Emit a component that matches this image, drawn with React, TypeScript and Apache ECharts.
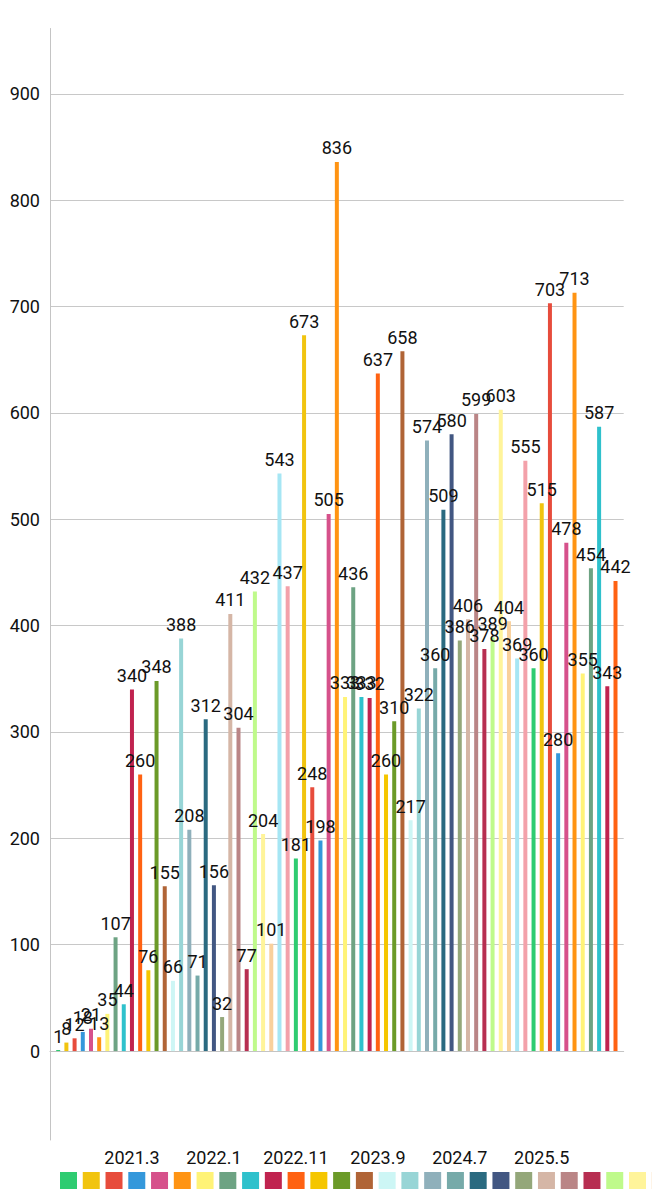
import React, { useEffect, useRef } from "react";
import * as echarts from "echarts";

const categories = [
  "", "2020.6", "2020.7", "2020.8", "2020.9", "2020.10", "2020.11", "2020.12",
  "2021.1", "2021.2", "2021.3", "2021.4", "2021.5", "2021.6", "2021.7", "2021.8",
  "2021.9", "2021.10", "2021.11", "2021.12", "2022.1", "2022.2", "2022.3", "2022.4",
  "2022.5", "2022.6", "2022.7", "2022.8", "2022.9", "2022.10", "2022.11", "2022.12",
  "2023.1", "2023.2", "2023.3", "2023.4", "2023.5", "2023.6", "2023.7", "2023.8",
  "2023.9", "2023.10", "2023.11", "2023.12", "2024.1", "2024.2", "2024.3", "2024.4",
  "2024.5", "2024.6", "2024.7", "2024.8", "2024.9", "2024.10", "2024.11", "2024.12",
  "2025.1", "2025.2", "2025.3", "2025.4", "2025.5", "2025.6", "2025.7", "2025.8",
  "2025.9", "2025.10", "2025.11", "2025.12", "2026.1", "2026.2", "",
];

const values = [
  1, 8, 12, 18, 21, 13, 35, 107, 44, 340,
  260, 76, 348, 155, 66, 388, 208, 71, 312, 156,
  32, 411, 304, 77, 432, 204, 101, 543, 437, 181,
  673, 248, 198, 505, 836, 333, 436, 333, 332, 637,
  260, 310, 658, 217, 322, 574, 360, 509, 580, 386,
  406, 599, 378, 389, 603, 404, 369, 555, 360, 515,
  703, 280, 478, 713, 355, 454, 587, 343, 442,
];

const palette = [
  "#2ecc71", "#f1c40f", "#e74c3c", "#3498db", "#d6518b", "#ff9413", "#fff377",
  "#6da383", "#2fc1cc", "#c0234f", "#ff6212", "#f5c600", "#6b9a28", "#b06436",
  "#cdf6f5", "#98d5d6", "#8fb0bb", "#76aaa9", "#2a6a80", "#425782", "#94a77a",
  "#d5b6a6", "#ba8586", "#b72e51", "#bffa8b", "#fff49a", "#f9d09c", "#a6e6f4",
  "#f3a1aa",
];

const yMin = -83.6;
const yMax = 961.4;

export default function App() {
  const ref = useRef<HTMLDivElement>(null);

  useEffect(() => {
    document.body.style.margin = "0";
    document.body.style.overflow = "hidden";
    if (!ref.current) return;
    const chart = echarts.init(ref.current, null, { renderer: "svg" });

    const series = values.map((v, k) => {
      const idx = k + 1;
      const data = categories.map((_, j) => (j === idx ? v : "-"));
      return {
        type: "bar",
        name: categories[idx],
        data,
        barWidth: 4,
        barGap: "-100%",
        label: {
          show: true,
          position: "top",
          distance: 5,
          fontSize: 18,
          color: "#111",
          fontFamily: "Roboto",
        },
      };
    });

    chart.setOption({
      animation: false,
      color: palette,
      textStyle: { fontFamily: "Roboto" },
      grid: {
        left: 50,
        right: 28.3,
        top: 28.5,
        bottom: 60,
        containLabel: false,
        outerBoundsMode: "none",
      },
      legend: {
        type: "plain",
        left: 55,
        top: 1167,
        width: 3000,
        icon: "rect",
        itemWidth: 17,
        itemHeight: 17,
        itemGap: 5.76,
        formatter: () => "",
        data: values.map((_, k) => categories[k + 1]),
      },
      xAxis: {
        type: "category",
        data: categories,
        boundaryGap: false,
        axisLine: { show: true, lineStyle: { color: "#c4c4c4", width: 1 } },
        axisTick: { show: false },
        axisLabel: {
          interval: 9,
          fontSize: 18,
          color: "#111",
          margin: 8,
        },
        splitLine: { show: false },
      },
      yAxis: {
        type: "value",
        min: yMin,
        max: yMax,
        splitNumber: 10,
        axisLine: { show: true, lineStyle: { color: "#c4c4c4", width: 1 } },
        axisTick: { show: false },
        axisLabel: {
          fontSize: 18,
          color: "#111",
          margin: 10,
          showMinLabel: false,
          showMaxLabel: false,
        },
        splitLine: {
          show: true,
          showMinLine: false,
          showMaxLine: false,
          lineStyle: { color: "#c8c8c8" },
        },
      },
      series,
    });

    return () => chart.dispose();
  }, []);

  return <div ref={ref} style={{ width: 652, height: 1200 }} />;
}
